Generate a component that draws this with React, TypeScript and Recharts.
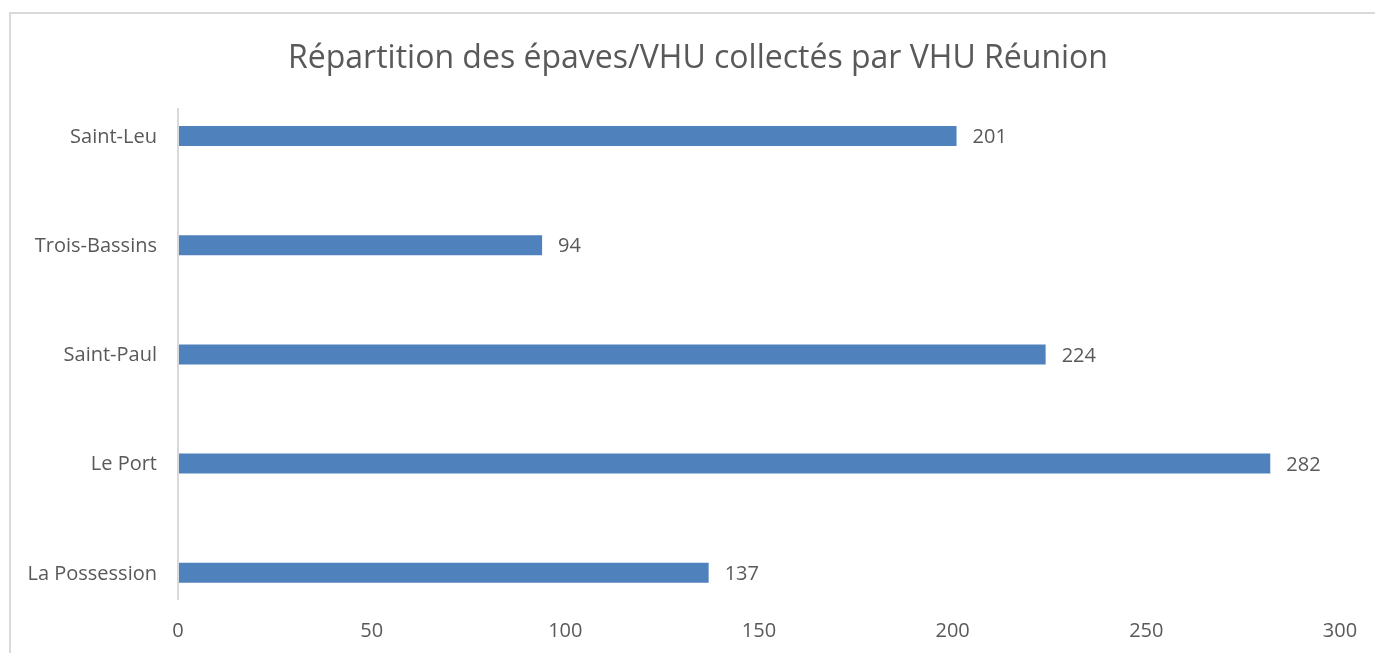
import React from "react";
import { BarChart, Bar, XAxis, YAxis, LabelList } from "recharts";

const communes = ["Saint-Leu", "Trois-Bassins", "Saint-Paul", "Le Port", "La Possession"];
const vhuCounts = [201, 94, 224, 282, 137];
const xTicks = [0, 50, 100, 150, 200, 250, 300];
const title = "Répartition des épaves/VHU collectés par VHU Réunion";

const data = communes.map((c, i) => ({ commune: c, value: vhuCounts[i] }));

const FONT = "'Open Sans', sans-serif";
const TEXT = "#595959";

export default function App() {
  return (
    <div style={{ position: "relative", width: 1359, height: 637, fontFamily: FONT }}>
      <div
        style={{
          position: "fixed",
          left: 9,
          top: 12,
          width: 1500,
          height: 800,
          border: "2px solid #d9d9d9",
          boxSizing: "border-box",
        }}
      />
      <div
        style={{
          position: "absolute",
          left: 21,
          top: 26,
          width: 1338,
          textAlign: "center",
          fontSize: 32,
          color: TEXT,
          lineHeight: "44px",
          whiteSpace: "nowrap",
        }}
      >
        {title}
      </div>
      <div style={{ position: "absolute", left: 0, top: 0 }}>
        <BarChart
          width={1359}
          height={637}
          layout="vertical"
          data={data}
          margin={{ top: 100, right: 27, bottom: 5, left: 10 }}
        >
          <XAxis
            type="number"
            domain={[0, 300]}
            ticks={xTicks}
            axisLine={false}
            tickLine={false}
            tickSize={0}
            tickMargin={23}
            height={40}
            tick={{ fill: TEXT, fontSize: 20, fontFamily: FONT }}
            interval={0}
          />
          <YAxis
            type="category"
            dataKey="commune"
            width={160}
            tickLine={false}
            tickSize={0}
            tickMargin={21}
            axisLine={{ stroke: "#d9d9d9", strokeWidth: 2 }}
            padding={{ top: -27, bottom: -27 }}
            tick={{ fill: TEXT, fontSize: 20, fontFamily: FONT }}
            interval={0}
          />
          <Bar dataKey="value" fill="#4f81bd" barSize={20} isAnimationActive={false}>
            <LabelList
              dataKey="value"
              position="right"
              offset={16}
              fill={TEXT}
              fontSize={20}
              fontFamily={FONT}
            />
          </Bar>
        </BarChart>
      </div>
    </div>
  );
}
